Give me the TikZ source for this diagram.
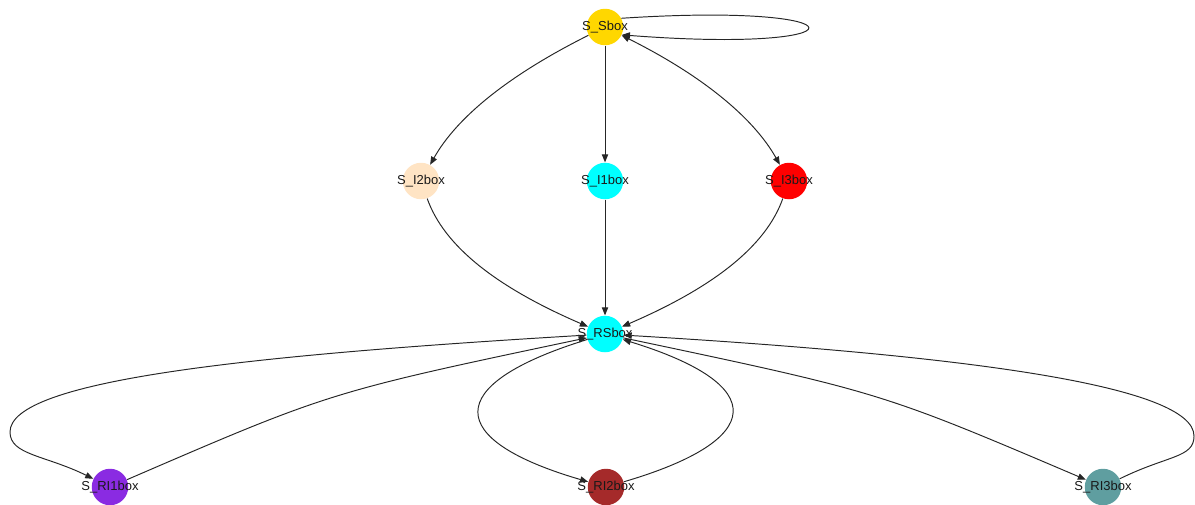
\documentclass[tikz,border=0pt]{standalone}
\usepackage{fontspec}
\setmainfont{Liberation Sans}
\usetikzlibrary{arrows.meta}

\definecolor{gold}{HTML}{FFD700}
\definecolor{bisque}{HTML}{FFE4C4}
\definecolor{aqua}{HTML}{00FFFF}
\definecolor{blueviolet}{HTML}{8A2BE2}
\definecolor{brownred}{HTML}{A52A2A}
\definecolor{cadetblue}{HTML}{5F9EA0}

\begin{document}
\begin{tikzpicture}[x=0.02cm, y=-0.02cm,
  vert/.style={circle, minimum size=0.73cm, inner sep=0pt},
  edge/.style={line width=0.55pt, black!85, -{Triangle[length=4.6pt,width=3.6pt]}},
  every label/.style={font=\fontsize{7.4}{8}\selectfont, inner sep=0pt, text=black!90}]
  \useasboundingbox (0,0) rectangle (1195,504);

  % boxes
  \node[vert, fill=gold, label=center:{S\_Sbox}] (Sbox) at (605,27) {};
  \node[vert, fill=bisque, label=center:{S\_I2box}] (I2box) at (421,181) {};
  \node[vert, fill=aqua, label=center:{S\_I1box}] (I1box) at (605,181) {};
  \node[vert, fill=red, label=center:{S\_I3box}] (I3box) at (789,181) {};
  \node[vert, fill=aqua, label=center:{S\_RSbox}] (RSbox) at (605,334) {};
  \node[vert, fill=blueviolet, label=center:{S\_RI1box}] (RI1box) at (110,487) {};
  \node[vert, fill=brownred, label=center:{S\_RI2box}] (RI2box) at (606,487) {};
  \node[vert, fill=cadetblue, label=center:{S\_RI3box}] (RI3box) at (1103,487) {};

  \coordinate (loopL) at (10,432);
  \coordinate (loopR) at (1194,436);

  % upper half
  \draw[edge] (Sbox.28) .. controls (870,2) and (870,54) .. (Sbox.-25);
  \draw[edge] (Sbox) .. controls (509,75) and (457,117) .. (I2box);
  \draw[edge] (Sbox) -- (I1box);
  \draw[edge, {Triangle[length=4.6pt,width=3.6pt]}-{Triangle[length=4.6pt,width=3.6pt]}]
    (Sbox) .. controls (701,75) and (753,117) .. (I3box);
  \draw[edge] (I2box) .. controls (444,246) and (496,287) .. (RSbox);
  \draw[edge] (I1box) -- (RSbox);
  \draw[edge] (I3box) .. controls (766,246) and (714,287) .. (RSbox);

  % lower half
  \draw[edge] (RSbox) .. controls (250,355) and (10,380) .. (loopL)
    .. controls (10,455) and (45,455) .. (RI1box);
  \draw[edge] (RI1box) .. controls (330,392) .. (RSbox);
  \draw[edge] (RSbox) .. controls (440,385) and (445,440) .. (RI2box);
  \draw[edge] (RI2box) .. controls (766,440) and (771,385) .. (RSbox);
  \draw[edge] (RSbox) .. controls (880,392) .. (RI3box);
  \draw[edge] (RI3box) .. controls (1168,455) and (1194,458) .. (loopR)
    .. controls (1194,385) and (960,355) .. (RSbox);
\end{tikzpicture}
\end{document}
